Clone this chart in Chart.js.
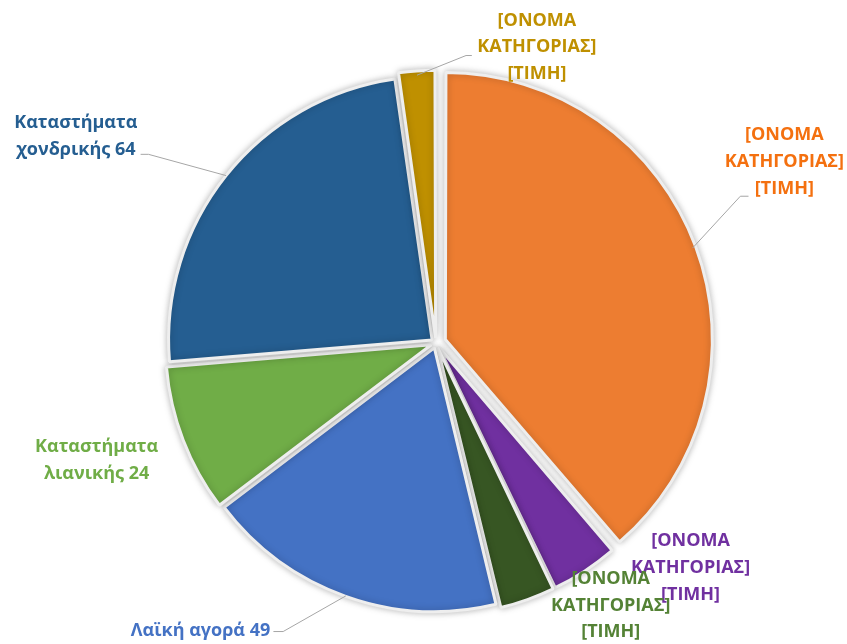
<!DOCTYPE html>
<html>
<head>
<meta charset="utf-8">
<script src="https://cdn.jsdelivr.net/npm/chart.js@4.4.1/dist/chart.umd.min.js"></script>
<style>
  html, body { margin: 0; padding: 0; background: #fff; }
  #wrap { width: 847px; height: 644px; position: relative; }
</style>
</head>
<body>
<div id="wrap"><canvas id="pieChart"></canvas></div>
<script>
// slices, clockwise from 12 o'clock
const categories = ['[ΟΝΟΜΑ ΚΑΤΗΓΟΡΙΑΣ]', '[ΟΝΟΜΑ ΚΑΤΗΓΟΡΙΑΣ]', '[ΟΝΟΜΑ ΚΑΤΗΓΟΡΙΑΣ]',
    'Λαϊκή αγορά', 'Καταστήματα λιανικής', 'Καταστήματα χονδρικής', '[ΟΝΟΜΑ ΚΑΤΗΓΟΡΙΑΣ]'];
const values = [103, 11, 9, 49, 24, 64, 6];
// label text as shown on the chart (placeholders kept as in the original)
const labelLines = [
    ['[ΟΝΟΜΑ', 'ΚΑΤΗΓΟΡΙΑΣ]', '[ΤΙΜΗ]'],
    ['[ΟΝΟΜΑ', 'ΚΑΤΗΓΟΡΙΑΣ]', '[ΤΙΜΗ]'],
    ['[ΟΝΟΜΑ', 'ΚΑΤΗΓΟΡΙΑΣ]', '[ΤΙΜΗ]'],
    ['Λαϊκή αγορά 49'],
    ['Καταστήματα', 'λιανικής 24'],
    ['Καταστήματα', 'χονδρικής 64'],
    ['[ΟΝΟΜΑ', 'ΚΑΤΗΓΟΡΙΑΣ]', '[ΤΙΜΗ]']
];
const sliceColors = ['#ED7D31', '#7030A0', '#375623', '#4472C4', '#70AD47', '#255E91', '#BF9000'];
const labelColors = ['#F4700F', '#7030A0', '#548235', '#4472C4', '#70AD47', '#255E91', '#BF9000'];
const sliceOffsets = [40, 20, 20, 20, 20, 20, 20];

// label placement relative to pie centre, in units of the radius
const labelPos = [
    [1.322, -0.6875], [0.966, 0.854], [0.663, 0.996], [-0.629, 1.091],
    [-1.288, 0.445], [-1.367, -0.784], [0.383, -1.122]
];
const labelAlign = ['center', 'center', 'center', 'right', 'center', 'center', 'center'];
// leader line: [elbow, end] or null
const leaders = [
    [[1.155, -0.557], [1.186, -0.557]],
    null,
    null,
    [[-0.580, 1.095], [-0.617, 1.095]],
    null,
    [[-1.091, -0.716], [-1.121, -0.716]],
    [[0.114, -1.091], [0.136, -1.091]]
];

const FONT = 'bold 18px "Open Sans", sans-serif';
const LINE_H = 26.8;

const shadowPlugin = {
    id: 'sliceShadow',
    beforeDatasetsDraw(chart) {
        const ctx = chart.ctx;
        ctx.save();
        ctx.shadowColor = 'rgba(0,0,0,0.26)';
        ctx.shadowBlur = 7;
    },
    afterDatasetsDraw(chart) {
        chart.ctx.restore();
    }
};

const labelPlugin = {
    id: 'sliceLabels',
    afterDraw(chart) {
        const ctx = chart.ctx;
        const meta = chart.getDatasetMeta(0);
        ctx.save();
        ctx.font = FONT;
        ctx.textBaseline = 'middle';
        meta.data.forEach((arc, i) => {
            const p = arc.getProps(['x', 'y', 'startAngle', 'endAngle', 'outerRadius'], true);
            const r = p.outerRadius;
            const mid = (p.startAngle + p.endAngle) / 2;
            const shift = sliceOffsets[i] / 4;
            if (leaders[i]) {
                const sx = p.x + Math.cos(mid) * (r + shift);
                const sy = p.y + Math.sin(mid) * (r + shift);
                const [elbow, end] = leaders[i];
                ctx.strokeStyle = '#A6A6A6';
                ctx.lineWidth = 1;
                ctx.beginPath();
                ctx.moveTo(sx, sy);
                ctx.lineTo(p.x + elbow[0] * r, p.y + elbow[1] * r);
                ctx.lineTo(p.x + end[0] * r, p.y + end[1] * r);
                ctx.stroke();
            }
            const lines = labelLines[i];
            const cx = p.x + labelPos[i][0] * r;
            const cy = p.y + labelPos[i][1] * r;
            ctx.fillStyle = labelColors[i];
            ctx.textAlign = labelAlign[i];
            lines.forEach((t, k) => {
                ctx.fillText(t, cx, cy + (k - (lines.length - 1) / 2) * LINE_H);
            });
        });
        ctx.restore();
    }
};

new Chart(document.getElementById('pieChart'), {
    type: 'pie',
    data: {
        labels: categories,
        datasets: [{
            data: values,
            backgroundColor: sliceColors,
            borderColor: '#eeeeee',
            borderWidth: 3,
            offset: sliceOffsets
        }]
    },
    options: {
        responsive: true,
        maintainAspectRatio: false,
        animation: false,
        layout: { padding: { left: 151, right: 126, top: 58, bottom: 16 } },
        plugins: {
            legend: { display: false },
            tooltip: { enabled: false }
        }
    },
    plugins: [shadowPlugin, labelPlugin]
});
</script>
</body>
</html>
